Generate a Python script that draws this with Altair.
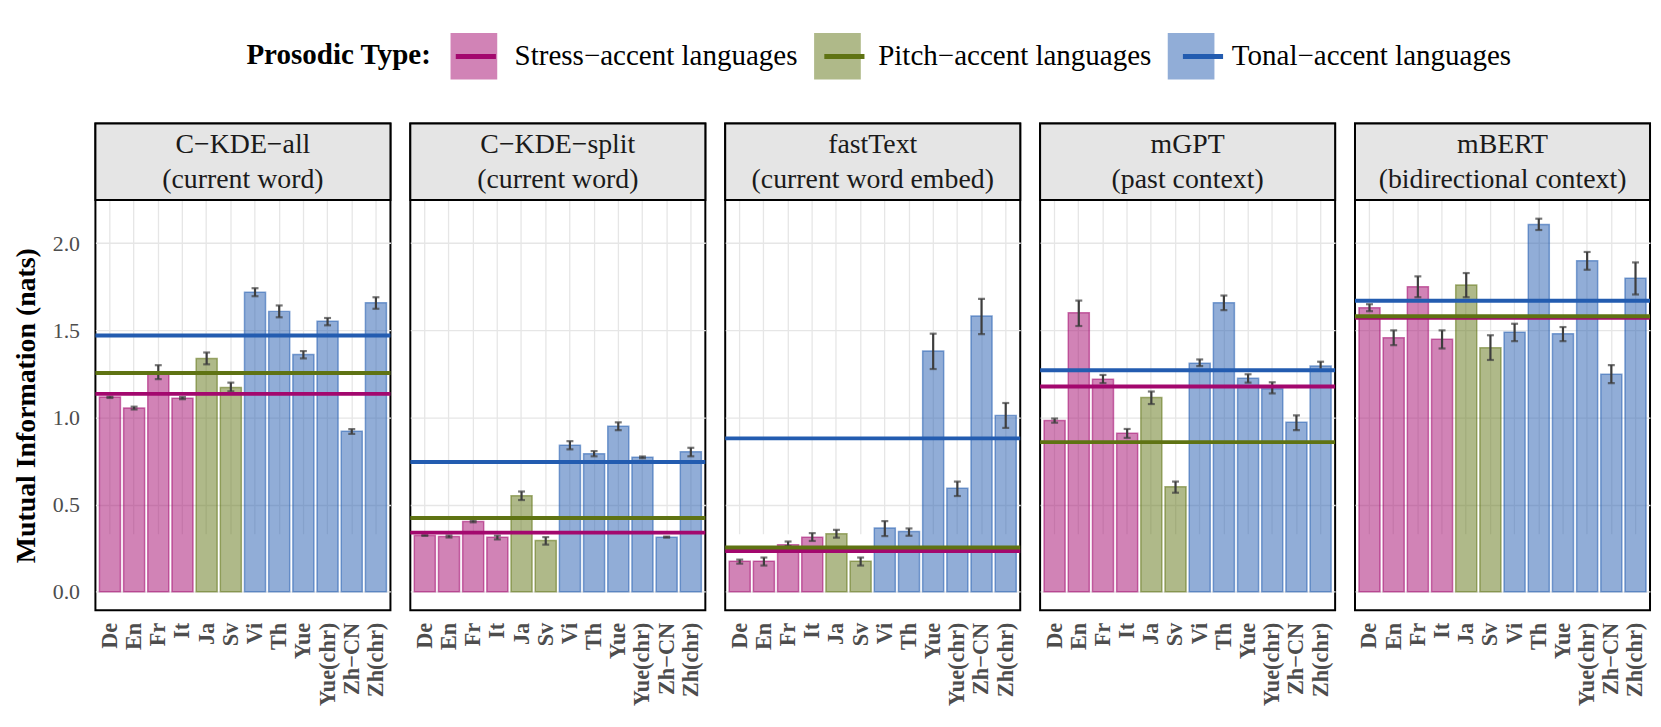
import altair as alt
import pandas as pd

SERIF = "Liberation Serif"

langs = ["De", "En", "Fr", "It", "Ja", "Sv", "Vi", "Th", "Yue", "Yue(chr)", "Zh−CN", "Zh(chr)"]
prosody = (["Stress−accent languages"] * 4 + ["Pitch−accent languages"] * 2
           + ["Tonal−accent languages"] * 6)
type_order = ["Stress−accent languages", "Pitch−accent languages", "Tonal−accent languages"]
type_colors = ["#a3086e", "#5f7313", "#235cb0"]

models = [
    "C−KDE−all\n(current word)",
    "C−KDE−split\n(current word)",
    "fastText\n(current word embed)",
    "mGPT\n(past context)",
    "mBERT\n(bidirectional context)",
]

# mutual information (nats), lower / upper error bounds, per model
ckde_all_mi = [1.117, 1.054, 1.260, 1.111, 1.339, 1.172, 1.719, 1.609, 1.362, 1.552, 0.921, 1.658]
ckde_all_lo = [1.112, 1.046, 1.220, 1.105, 1.305, 1.150, 1.696, 1.575, 1.339, 1.529, 0.906, 1.624]
ckde_all_hi = [1.120, 1.062, 1.300, 1.117, 1.373, 1.200, 1.742, 1.643, 1.381, 1.571, 0.933, 1.690]

ckde_split_mi = [0.323, 0.317, 0.403, 0.313, 0.551, 0.294, 0.841, 0.792, 0.950, 0.771, 0.313, 0.803]
ckde_split_lo = [0.320, 0.311, 0.398, 0.300, 0.526, 0.270, 0.817, 0.777, 0.927, 0.766, 0.310, 0.777]
ckde_split_hi = [0.326, 0.323, 0.408, 0.322, 0.575, 0.313, 0.864, 0.807, 0.972, 0.776, 0.316, 0.826]

fasttext_mi = [0.175, 0.175, 0.270, 0.313, 0.332, 0.175, 0.365, 0.346, 1.381, 0.594, 1.582, 1.012]
fasttext_lo = [0.161, 0.150, 0.262, 0.291, 0.310, 0.150, 0.319, 0.321, 1.278, 0.549, 1.478, 0.940]
fasttext_hi = [0.184, 0.196, 0.288, 0.336, 0.355, 0.196, 0.405, 0.363, 1.481, 0.632, 1.681, 1.083]

mgpt_mi = [0.982, 1.601, 1.220, 0.910, 1.115, 0.602, 1.311, 1.658, 1.225, 1.165, 0.972, 1.295]
mgpt_lo = [0.970, 1.525, 1.197, 0.883, 1.077, 0.568, 1.295, 1.616, 1.200, 1.138, 0.927, 1.270]
mgpt_hi = [0.994, 1.671, 1.244, 0.934, 1.149, 0.632, 1.333, 1.700, 1.248, 1.202, 1.012, 1.320]

mbert_mi = [1.630, 1.458, 1.750, 1.449, 1.761, 1.400, 1.489, 2.108, 1.480, 1.899, 1.248, 1.799]
mbert_lo = [1.610, 1.415, 1.690, 1.396, 1.690, 1.330, 1.438, 2.076, 1.438, 1.848, 1.197, 1.706]
mbert_hi = [1.650, 1.500, 1.810, 1.500, 1.829, 1.472, 1.538, 2.141, 1.519, 1.950, 1.301, 1.890]

series = [
    (ckde_all_mi, ckde_all_lo, ckde_all_hi),
    (ckde_split_mi, ckde_split_lo, ckde_split_hi),
    (fasttext_mi, fasttext_lo, fasttext_hi),
    (mgpt_mi, mgpt_lo, mgpt_hi),
    (mbert_mi, mbert_lo, mbert_hi),
]

rows = []
for model, (mi, lo, hi) in zip(models, series):
    for i, lang in enumerate(langs):
        rows.append({"model": model, "lang": lang, "type": prosody[i], "type_l": prosody[i],
                     "mi": mi[i], "lo": lo[i], "hi": hi[i]})
df = pd.DataFrame(rows)

W, STRIP, H = 297, 77, 490
LFONT = 29.2
TITLE_W = 6.472 * LFONT          # width of the bold legend title (Times metrics)
TITLE_PAD = 16
LX, LY = 152, -94

yscale = alt.Scale(domain=[-0.107, 2.248], range=[H, STRIP], nice=False, zero=False)
yaxis = alt.Axis(title="Mutual Information (nats)", values=[0, 0.5, 1.0, 1.5, 2.0], format=".1f",
                 labelFont=SERIF, labelFontSize=22, labelColor="#4d4d4d", labelPadding=13,
                 titleFont=SERIF, titleFontSize=28, titleFontWeight="bold", titleColor="black",
                 titlePadding=12, ticks=False, domain=False, grid=True)
x = alt.X("lang:N", sort=langs,
          scale=alt.Scale(domain=langs, paddingInner=0.13, paddingOuter=0.165),
          axis=alt.Axis(title=None, labelAngle=270, labelFont=SERIF, labelFontSize=22.5,
                        labelFontWeight="bold", labelColor="#4d4d4d", labelPadding=11,
                        ticks=False, domain=False, grid=True, bandPosition=0.5))

fill_scale = alt.Scale(domain=type_order, range=type_colors)
line_scale = alt.Scale(range=type_colors)

common_legend = dict(orient="none", legendY=LY, direction="horizontal",
                     labelFont=SERIF, labelFontSize=LFONT, labelColor="black", labelLimit=600,
                     symbolSize=2209, symbolStrokeWidth=5, labelOffset=15, columnPadding=14)

fill_legend = alt.Legend(title="Prosodic Type:", legendX=LX, titleOrient="left",
                         titleAnchor="middle", titleBaseline="middle", titleFont=SERIF,
                         titleFontSize=LFONT, titleFontWeight="bold", titleColor="black",
                         titleLimit=600, titlePadding=TITLE_PAD,
                         symbolType="square", symbolOpacity=0.5, **common_legend)

# line keys drawn on top of the square keys (same entry layout, labels invisible)
line_legend = alt.Legend(title=None, legendX=LX + TITLE_W + TITLE_PAD,
                         symbolType="M-0.86,0H0.86", labelOpacity=0, **common_legend)

base = alt.Chart()

bars = base.mark_bar(fillOpacity=0.5, strokeOpacity=0.55, strokeWidth=1.5).encode(
    x=x,
    y=alt.Y("mi:Q", scale=yscale, axis=yaxis),
    fill=alt.Fill("type:N", scale=fill_scale, legend=fill_legend),
    stroke=alt.Stroke("type_l:N", sort=type_order, scale=line_scale, legend=line_legend),
)

err = base.mark_rule(color="#3d3d3d", strokeWidth=2.2).encode(
    x=x, y=alt.Y("lo:Q", scale=yscale, axis=yaxis), y2="hi:Q")
cap_lo = base.mark_tick(color="#3d3d3d", thickness=2.2, size=7).encode(
    x=x, y=alt.Y("lo:Q", scale=yscale, axis=yaxis))
cap_hi = base.mark_tick(color="#3d3d3d", thickness=2.2, size=7).encode(
    x=x, y=alt.Y("hi:Q", scale=yscale, axis=yaxis))

means = base.mark_rule(strokeWidth=4).encode(
    y=alt.Y("mean(mi):Q", scale=yscale, axis=yaxis),
    stroke=alt.Stroke("type_l:N", sort=type_order, scale=line_scale, legend=line_legend),
)

strip_rect = base.mark_rect(fill="#e5e5e5", stroke="black", strokeWidth=2).encode(
    x=alt.value(0), x2=alt.value(W), y=alt.value(0), y2=alt.value(STRIP)
).transform_filter(alt.datum.lang == "De")

strip_text = base.mark_text(font=SERIF, fontSize=28, lineBreak="\n", lineHeight=35,
                            color="#1a1a1a", baseline="middle", align="center").encode(
    text="model:N", x=alt.value(W / 2), y=alt.value(22)
).transform_filter(alt.datum.lang == "De")

layered = alt.layer(bars, err, cap_lo, cap_hi, means, strip_rect, strip_text, data=df).properties(
    width=W, height=H)

chart = layered.facet(
    column=alt.Column("model:N", sort=models, header=alt.Header(title=None, labels=False)),
    spacing=14,
).properties(
    padding={"left": 4, "top": 20, "right": 0, "bottom": 0}
).configure(font=SERIF).configure_view(
    stroke="black", strokeWidth=2
).configure_axis(
    gridColor="#e6e6e6", gridWidth=1.3
)

chart.save("out.html", embed_options={"renderer": "svg", "actions": False})
